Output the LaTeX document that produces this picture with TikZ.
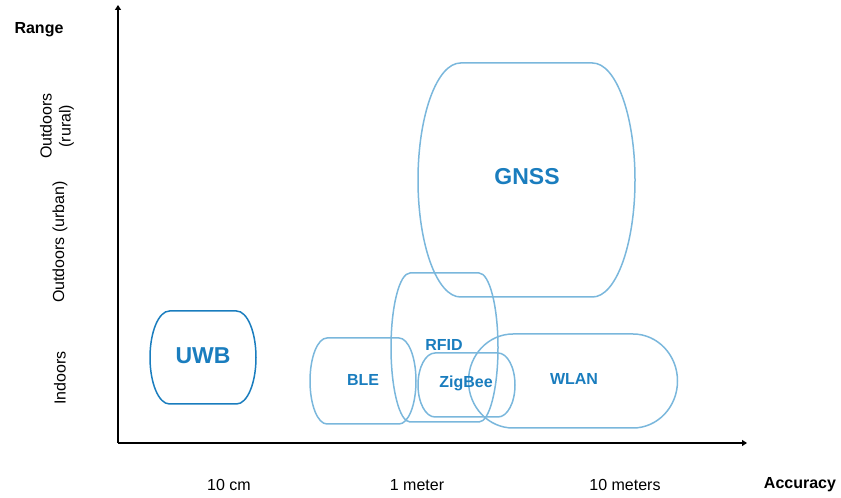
\documentclass[tikz,border=0pt]{standalone}
\usepackage{fontspec}
\setmainfont{Liberation Sans}
\usetikzlibrary{arrows.meta}
\definecolor{techblue}{RGB}{26,125,190}
\definecolor{techline}{RGB}{122,183,220}
\tikzset{
    axisline/.style={line width=2.6pt, -{Triangle[length=5pt,width=6pt]}},
    axislabel/.style={font=\fontsize{16}{19}\selectfont},
    techname/.style={font=\fontsize{16}{19}\selectfont\bfseries, text=techblue},
    shapeline/.style={draw=techline, line width=1.5pt}
}
% #1-name #2-x centre #3-y centre #4-half of flat part #5-bulge #6-half height #7-style
\newcommand{\techshape}[7]{%
    \coordinate (#1) at (#2,#3);
    \draw[#7] ($(#1)+(-#4,#6)$) -- ($(#1)+(#4,#6)$)
        arc[start angle=90, end angle=-90, x radius=#5, y radius=#6]
        -- ($(#1)+(-#4,-#6)$)
        arc[start angle=270, end angle=90, x radius=#5, y radius=#6] -- cycle;
}
\usetikzlibrary{calc}

\begin{document}
\begin{tikzpicture}[x=1pt,y=1pt]
    \useasboundingbox (0,0) rectangle (841,498);
    % axes
    \coordinate (origin) at (118,55);
    \coordinate (ytop) at (118,493);
    \coordinate (xend) at (747,55);
    \draw[axisline] (origin) -- (ytop);
    \draw[axisline] (origin) -- (xend);
    \node[axislabel, font=\fontsize{16}{19}\selectfont\bfseries] (range) at (39,468) {Range};
    \node[axislabel, font=\fontsize{16}{19}\selectfont\bfseries] (accuracy) at (800,13) {Accuracy};
    \node[axislabel] (cm10) at (229,13) {10 cm};
    \node[axislabel] (m1) at (417,13) {1 meter};
    \node[axislabel] (m10) at (625,13) {10 meters};
    \node[axislabel, rotate=90] (indoors) at (60,120) {Indoors};
    \node[axislabel, rotate=90] (urban) at (60,256) {Outdoors (urban)};
    \node[axislabel, rotate=90, align=center] (rural) at (57,372) {Outdoors\\(rural)};
    % technologies
    \techshape{gnss}{526.5}{318}{66}{42.5}{117}{shapeline}
    \techshape{rfid}{444.5}{150.5}{34.5}{19}{74.5}{shapeline}
    \techshape{ble}{363}{117}{36}{17}{43}{shapeline}
    \techshape{zigbee}{466.5}{113}{31.5}{17}{32}{shapeline}
    \techshape{wlan}{573}{117}{60}{44.5}{47}{shapeline}
    \techshape{uwb}{203}{140.5}{33.5}{19.5}{46.5}{shapeline, draw=techblue}
    \node[techname, font=\fontsize{23}{27}\selectfont\bfseries] (gnsslabel) at (527,321) {GNSS};
    \node[techname, font=\fontsize{23}{27}\selectfont\bfseries] (uwblabel) at (203,142) {UWB};
    \node[techname] (blelabel) at (363,118) {BLE};
    \node[techname] (rfidlabel) at (444,153) {RFID};
    \node[techname] (zigbeelabel) at (466,115) {ZigBee};
    \node[techname] (wlanlabel) at (574,119) {WLAN};
\end{tikzpicture}
\end{document}
